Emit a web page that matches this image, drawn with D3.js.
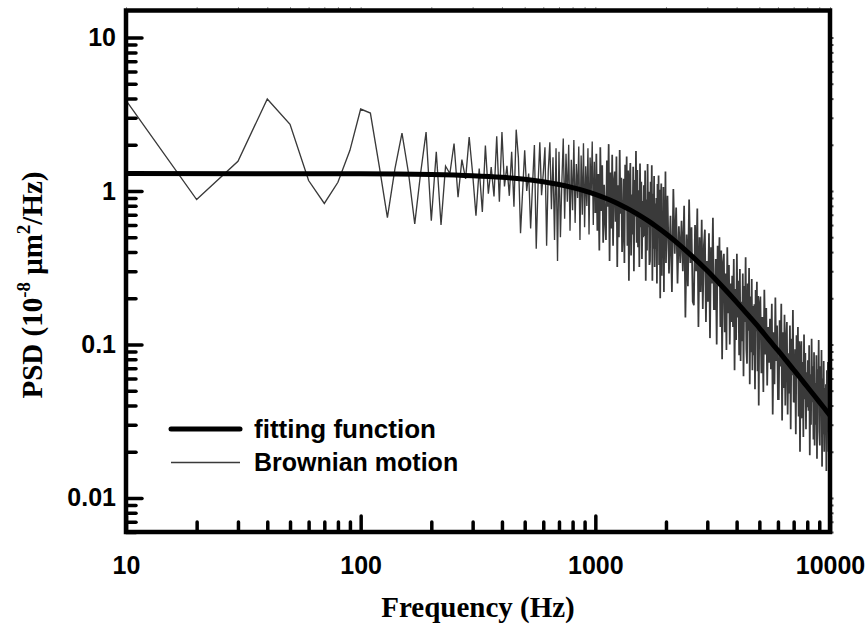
<!DOCTYPE html>
<html><head><meta charset="utf-8">
<script src="https://cdnjs.cloudflare.com/ajax/libs/d3/7.8.5/d3.min.js"></script>
<style>body{margin:0;background:#fff} svg{display:block}</style>
</head><body>
<svg id="chart" width="867" height="625"></svg>
<script>
// ---------- data ----------
const xMajor = [10, 100, 1000, 10000];
const xTickLabels = ["10", "100", "1000", "10000"];
const yMajor = [0.01, 0.1, 1, 10];
const yTickLabels = ["0.01", "0.1", "1", "10"];
const seriesNames = ["fitting function", "Brownian motion"];

// fitting function
const fitFreq = [10, 100, 200, 300, 400, 500, 600, 700, 800, 900, 1000, 1100, 1200, 1300, 1400, 1500, 1700, 1800, 2000, 2500, 3000, 3500, 4000, 4500, 5000, 5500, 6000, 6500, 7000, 7500, 8000, 8500, 9000, 9500, 10000];
const fitPsd  = [1.30, 1.295, 1.281, 1.258, 1.228, 1.191, 1.148, 1.102, 1.053, 1.002, 0.951, 0.900, 0.850, 0.802, 0.756, 0.712, 0.631, 0.594, 0.527, 0.394, 0.302, 0.236, 0.189, 0.154, 0.128, 0.107, 0.0914, 0.0787, 0.0684, 0.060, 0.053, 0.0472, 0.0423, 0.0381, 0.0345];

// Brownian motion PSD, sampled in blocks (start frequency, step in Hz)
const blockStart = [10, 1010, 2030, 5050];
const blockStep  = [10, 10, 30, 50];
const psdBlock0 = [3.90,0.88,1.56,3.98,2.72,1.17,0.83,1.14,1.84,3.42,
  3.22,1.45,0.67,1.40,2.38,1.30,0.61,1.30,2.42,0.64,
  1.80,0.60,1.45,1.30,2.04,0.91,1.60,1.20,2.25,1.30,
  0.69,1.40,0.73,1.98,0.96,1.43,0.92,2.27,0.85,2.42,
  1.07,1.46,0.93,1.80,0.79,2.51,1.65,0.53,1.00,1.84,
  1.00,1.30,0.57,1.10,1.99,0.42,1.10,2.08,0.94,1.30,
  1.93,0.44,1.35,2.08,0.76,1.66,0.48,1.90,0.35,1.80,
  0.50,1.14,2.20,0.66,1.75,0.85,2.00,0.55,1.60,0.75,
  2.15,0.62,1.50,0.90,1.95,0.48,1.70,0.70,2.05,0.58,
  1.45,0.80,1.90,0.52,1.65,0.95,2.10,0.60,1.55,0.72];
const psdBlock1 = [1.75,0.55,1.29,0.41,1.93,0.74,1.47,0.46,1.10,0.64,
  0.48,1.58,0.79,2.02,0.35,1.32,0.57,1.72,0.44,1.14,
  1.34,0.63,1.68,0.32,1.09,0.50,1.85,0.71,1.22,0.40,
  0.56,1.20,0.34,1.48,0.80,1.68,0.44,1.36,0.26,1.12,
  1.52,0.38,0.95,0.52,1.44,0.30,1.18,0.68,1.82,0.46,
  1.37,0.43,1.01,0.32,1.51,0.58,1.15,0.36,0.86,0.50,
  1.09,0.51,1.36,0.26,0.88,0.41,1.50,0.58,0.99,0.33,
  0.35,1.15,0.58,1.47,0.26,0.96,0.42,1.25,0.32,0.83,
  0.42,0.90,0.25,1.11,0.60,1.26,0.33,1.02,0.20,0.84,
  1.12,0.28,0.70,0.38,1.06,0.22,0.87,0.50,1.34,0.34];
const psdBlock2 = [0.93,0.29,0.69,0.22,1.03,0.39,0.78,0.25,0.59,0.34,
  0.64,0.30,0.80,0.15,0.52,0.24,0.88,0.34,0.58,0.19,
  0.18,0.60,0.30,0.77,0.13,0.50,0.22,0.65,0.17,0.44,
  0.56,0.14,0.35,0.19,0.53,0.11,0.43,0.25,0.67,0.17,
  0.17,0.36,0.10,0.44,0.24,0.50,0.13,0.41,0.08,0.34,
  0.39,0.12,0.29,0.092,0.43,0.16,0.33,0.10,0.25,0.14,
  0.28,0.13,0.36,0.068,0.23,0.107,0.39,0.15,0.26,0.085,
  0.31,0.078,0.19,0.105,0.29,0.062,0.24,0.14,0.37,0.093,
  0.075,0.25,0.123,0.315,0.055,0.205,0.089,0.267,0.068,0.178,
  0.085,0.183,0.051,0.226,0.122,0.256,0.067,0.207,0.040,0.171];
const psdBlock3 = [0.205,0.065,0.151,0.049,0.227,0.086,0.173,0.054,0.130,0.076,
  0.147,0.069,0.184,0.035,0.120,0.055,0.202,0.078,0.133,0.044,
  0.044,0.144,0.072,0.184,0.032,0.120,0.052,0.156,0.040,0.104,
  0.140,0.035,0.0875,0.048,0.133,0.028,0.109,0.063,0.168,0.042,
  0.043,0.093,0.026,0.115,0.062,0.130,0.034,0.105,0.020,0.087,
  0.105,0.033,0.077,0.025,0.116,0.044,0.088,0.028,0.066,0.039,
  0.079,0.037,0.099,0.019,0.064,0.030,0.109,0.042,0.072,0.024,
  0.089,0.022,0.056,0.030,0.085,0.018,0.069,0.040,0.107,0.027,
  0.022,0.072,0.036,0.092,0.016,0.060,0.026,0.078,0.020,0.052,
  0.026,0.055,0.015,0.068,0.037,0.077,0.020,0.062,0.013,0.051];

// ---------- build ----------
const blocks = [psdBlock0, psdBlock1, psdBlock2, psdBlock3];
const brownianLow = [], brownianHigh = [];
blocks.forEach((b, k) => b.forEach((v, i) => {
  const pt = {f: blockStart[k] + i * blockStep[k], p: v};
  if (k === 0) brownianLow.push(pt); else brownianHigh.push(pt);
}));
brownianHigh.unshift(brownianLow[brownianLow.length - 1]);
const fit = fitFreq.map((f, i) => ({f, p: fitPsd[i]}));

const svg = d3.select("#chart");
const L = 126, R = 830, T = 10.5, B = 532;
const x = d3.scaleLog().domain([10, 10000]).range([L, R]);
const y = d3.scaleLog().domain([0.006, 15]).range([B, T]);

const xMinor = [], yMinor = [];
[10, 100, 1000].forEach(d => { for (let k = 2; k <= 9; k++) xMinor.push(d * k); });
[0.001, 0.01, 0.1, 1].forEach(d => { for (let k = 2; k <= 9; k++) { const v = +(d * k).toPrecision(6); if (v >= 0.006 && v <= 15) yMinor.push(v); } });

const sansFont = "'Liberation Sans', Arial, sans-serif";
const serifFont = "'Liberation Serif', 'Times New Roman', serif";

// clip
svg.append("defs").append("clipPath").attr("id", "clip")
  .append("rect").attr("x", L).attr("y", T).attr("width", R - L).attr("height", B - T);

// data lines
const line = d3.line().x(d => x(d.f)).y(d => y(d.p));
svg.append("path").datum(brownianLow)
  .attr("clip-path", "url(#clip)")
  .attr("d", line)
  .attr("fill", "none").attr("stroke", "#3a3a3a").attr("stroke-width", 1.35).attr("stroke-linejoin", "miter");
svg.append("path").datum(brownianHigh)
  .attr("clip-path", "url(#clip)")
  .attr("d", line)
  .attr("fill", "none").attr("stroke", "#3a3a3a").attr("stroke-width", 1.75).attr("stroke-linejoin", "miter");
svg.append("path").datum(fit)
  .attr("clip-path", "url(#clip)")
  .attr("d", d3.line().x(d => x(d.f)).y(d => y(d.p)).curve(d3.curveMonotoneX))
  .attr("fill", "none").attr("stroke", "#000").attr("stroke-width", 5).attr("stroke-linecap", "round");

// axes: labels from d3 axes, tick marks restyled to point inward
function styleAxis(g, horizontal, len) {
  g.select(".domain").remove();
  g.selectAll(".tick line")
    .attr("x1", 0).attr("y1", 0)
    .attr("x2", horizontal ? 0 : len).attr("y2", horizontal ? -len : 0)
    .attr("stroke", "#000").attr("stroke-width", 3.5).attr("stroke-linecap", "round");
  g.selectAll(".tick text").attr("fill", "#000").attr("font-family", sansFont).attr("font-weight", "bold").attr("font-size", 25);
}
const gx = svg.append("g").attr("transform", `translate(0,${B})`)
  .call(d3.axisBottom(x).tickValues(xMajor).tickFormat((d, i) => xTickLabels[i]).tickSize(14).tickPadding(10));
styleAxis(gx, true, 16);
const gxm = svg.append("g").attr("transform", `translate(0,${B})`)
  .call(d3.axisBottom(x).tickValues(xMinor).tickFormat(() => "").tickSize(8));
styleAxis(gxm, true, 10);
const gy = svg.append("g").attr("transform", `translate(${L},0)`)
  .call(d3.axisLeft(y).tickValues(yMajor).tickFormat((d, i) => yTickLabels[i]).tickSize(0).tickPadding(10));
styleAxis(gy, false, 16);
const gym = svg.append("g").attr("transform", `translate(${L},0)`)
  .call(d3.axisLeft(y).tickValues(yMinor).tickFormat(() => "").tickSize(8));
styleAxis(gym, false, 10);

// tiny outward mirror ticks on top and right
const gt = svg.append("g").attr("transform", `translate(0,${T})`)
  .call(d3.axisTop(x).tickValues(xMajor.concat(xMinor)).tickFormat(() => "").tickSize(3.5));
gt.select(".domain").remove();
gt.selectAll(".tick line").attr("stroke", "#999").attr("stroke-width", 1);
const gr = svg.append("g").attr("transform", `translate(${R},0)`)
  .call(d3.axisRight(y).tickValues(yMajor.concat(yMinor)).tickFormat(() => "").tickSize(3.5));
gr.select(".domain").remove();
gr.selectAll(".tick line").attr("stroke", "#444").attr("stroke-width", 2);

// frame
svg.append("rect").attr("x", L).attr("y", T).attr("width", R - L).attr("height", B - T)
  .attr("fill", "none").attr("stroke", "#000").attr("stroke-width", 4.5);

// axis titles
svg.append("text").attr("x", (L + R) / 2).attr("y", 617)
  .attr("text-anchor", "middle").attr("font-family", serifFont).attr("font-weight", "bold").attr("font-size", 29)
  .text("Frequency (Hz)");
const ytl = svg.append("text").attr("transform", "translate(42,285) rotate(-90)")
  .attr("text-anchor", "middle").attr("font-family", serifFont).attr("font-weight", "bold").attr("font-size", 29);
ytl.append("tspan").text("PSD (10");
ytl.append("tspan").attr("dy", -12).attr("font-size", 19).text("-8");
ytl.append("tspan").attr("dy", 12).text(" \u03BCm");
ytl.append("tspan").attr("dy", -12).attr("font-size", 19).text("2");
ytl.append("tspan").attr("dy", 12).text("/Hz)");

// legend
const lg = svg.append("g");
lg.append("line").attr("x1", 171).attr("x2", 240).attr("y1", 429).attr("y2", 429)
  .attr("stroke", "#000").attr("stroke-width", 5).attr("stroke-linecap", "round");
lg.append("text").attr("x", 254).attr("y", 438).attr("font-family", sansFont).attr("font-weight", "bold").attr("font-size", 26).text(seriesNames[0]);
lg.append("line").attr("x1", 171).attr("x2", 240).attr("y1", 462.5).attr("y2", 462.5)
  .attr("stroke", "#3a3a3a").attr("stroke-width", 1.35);
lg.append("text").attr("x", 254).attr("y", 471).attr("font-family", sansFont).attr("font-weight", "bold").attr("font-size", 25).text(seriesNames[1]);
</script>
</body></html>
